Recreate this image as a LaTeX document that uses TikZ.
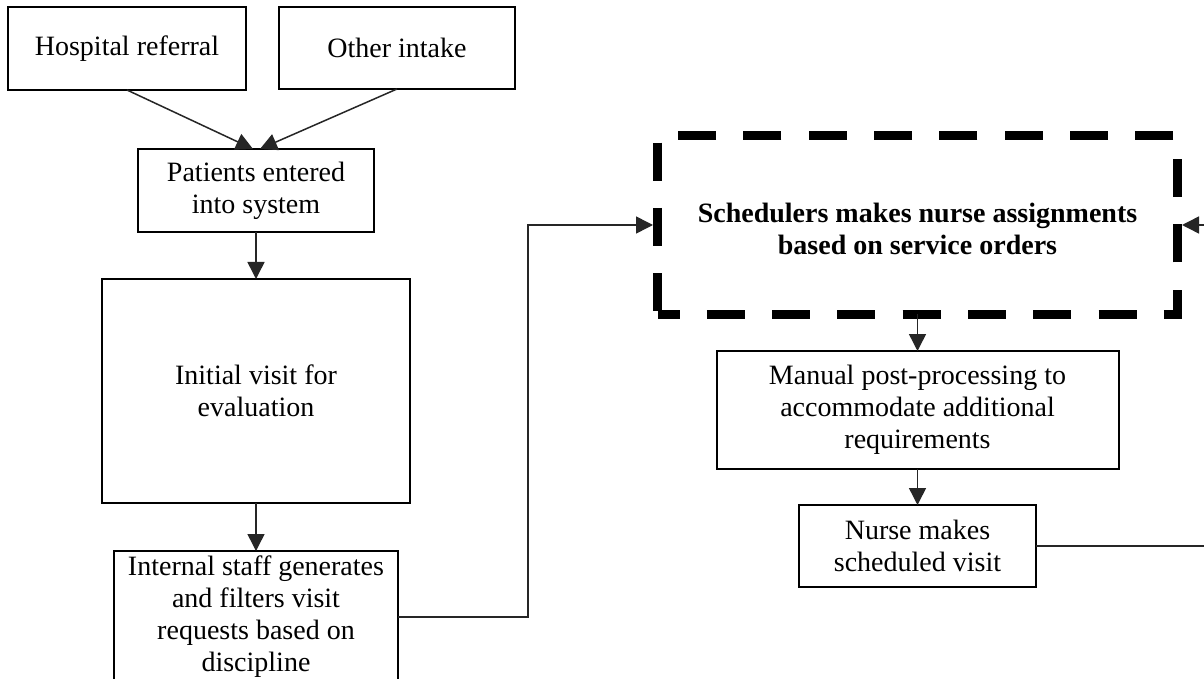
\documentclass[tikz,border=0pt]{standalone}
\usepackage{fontspec}
\setmainfont{Liberation Serif}
\usetikzlibrary{arrows.meta,calc}
\begin{document}
\begin{tikzpicture}[x=0.5pt,y=-0.5pt,
  box/.style={draw=black, line width=1pt, align=center, inner sep=0pt, outer sep=0pt,
    font=\fontsize{14pt}{16pt}\selectfont},
  conn/.style={draw=black!85, line width=0.75pt},
  arr/.style={conn, -{Triangle[length=8.5pt,width=8.5pt]}}]
\path[use as bounding box, fill=white] (0,0) rectangle (1204,679);
\clip (0,0) rectangle (1204,679);

\node[box, minimum width=119pt, minimum height=41.5pt] (hosp) at (127,48.5) {Hospital referral};
\node[box, minimum width=118pt, minimum height=41pt] (other) at (397,48) {Other intake};
\node[box, minimum width=118pt, minimum height=41.5pt] (pat) at (256,190.5) {Patients entered\\into system};
\node[box, minimum width=154pt, minimum height=112pt] (init) at (256,391) {Initial visit for\\evaluation};
\node[box, minimum width=142pt, minimum height=66pt] (int) at (256,617) {Internal staff generates\\and filters visit\\requests based on\\discipline};

\node[align=center, inner sep=0pt, outer sep=0pt, minimum width=260pt, minimum height=89pt,
  font=\fontsize{14pt}{16pt}\selectfont\bfseries] (sched) at (917.5,225)
  {\rule{0pt}{14pt}Schedulers makes nurse assignments\\based on service orders};
\draw[line width=4.5pt, dash pattern=on 19pt off 13.65pt, dash phase=8pt]
  (sched.south west) -- (sched.south east) -- (sched.north east) -- (sched.north west) -- cycle;

\node[box, minimum width=201pt, minimum height=59pt] (man) at (917.5,410) {Manual post-processing to\\accommodate additional\\requirements};
\node[box, minimum width=118.5pt, minimum height=41pt] (nurse) at (917.5,546) {Nurse makes\\scheduled visit};

\coordinate (lt) at (528,0);
\coordinate (rt) at (1215,0);

\draw[arr] (hosp.south) -- ($(pat.north)+(-3,0)$);
\draw[arr] (other.south) -- ($(pat.north)+(4,0)$);
\draw[arr] (pat.south) -- (init.north);
\draw[arr] (init.south) -- (int.north);
\draw[arr, shorten >=2.25pt] (int.east) -| (lt |- sched.west) -- (sched.west);
\draw[arr] (sched.south) -- (man.north);
\draw[arr] (man.south) -- (nurse.north);
\draw[arr, shorten >=2.25pt] (nurse.east) -| (rt |- sched.east) -- (sched.east);
\end{tikzpicture}
\end{document}
